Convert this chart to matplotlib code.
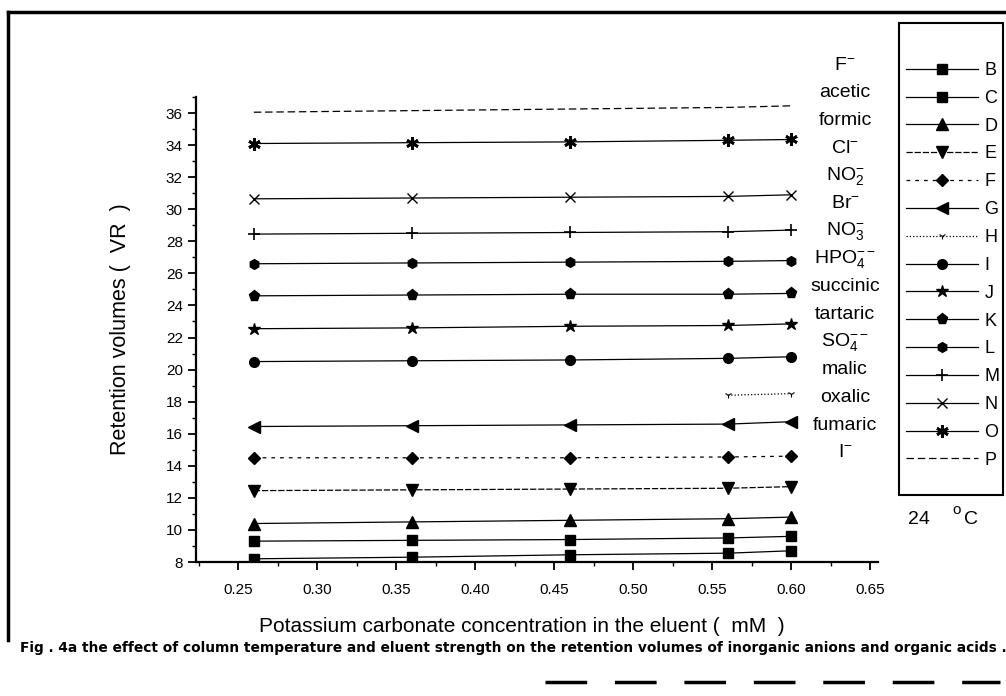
import numpy as np
import matplotlib.pyplot as plt
from matplotlib.lines import Line2D
from matplotlib.patches import Rectangle
from matplotlib.ticker import MultipleLocator, FormatStrFormatter

plt.rcParams['font.family'] = ['Liberation Sans', 'DejaVu Sans']
plt.rcParams['mathtext.fontset'] = 'custom'
plt.rcParams['mathtext.rm'] = 'Liberation Sans'
plt.rcParams['mathtext.it'] = 'Liberation Sans:italic'
plt.rcParams['mathtext.bf'] = 'Liberation Sans:bold'

# eluent concentration (mM)
conc = [0.26, 0.36, 0.46, 0.56, 0.60]

# retention volumes per series
B = [8.2, 8.3, 8.45, 8.55, 8.7]
C = [9.3, 9.35, 9.4, 9.5, 9.6]
D = [10.4, 10.5, 10.6, 10.7, 10.8]
E = [12.45, 12.5, 12.55, 12.6, 12.7]
F = [14.5, 14.5, 14.5, 14.55, 14.6]
G = [16.45, 16.5, 16.55, 16.6, 16.75]
Hs = [np.nan, np.nan, np.nan, 18.4, 18.5]
I = [20.5, 20.55, 20.6, 20.7, 20.8]
J = [22.55, 22.6, 22.7, 22.75, 22.85]
K = [24.6, 24.65, 24.7, 24.7, 24.75]
L = [26.6, 26.65, 26.7, 26.75, 26.8]
M = [28.45, 28.5, 28.55, 28.6, 28.7]
N = [30.65, 30.7, 30.75, 30.8, 30.9]
O = [34.1, 34.15, 34.2, 34.3, 34.35]
P = [36.05, 36.15, 36.25, 36.35, 36.45]

series_names = ['B', 'C', 'D', 'E', 'F', 'G', 'H', 'I', 'J', 'K', 'L', 'M', 'N', 'O', 'P']
series_vals = [B, C, D, E, F, G, Hs, I, J, K, L, M, N, O, P]

# ion / acid names listed beside the curves
ion_labels = [r'F$^{-}$', 'acetic', 'formic', r'Cl$^{-}$', r'NO$_2^{-}$', r'Br$^{-}$',
              r'NO$_3^{-}$', r'HPO$_4^{--}$', 'succinic', 'tartaric', r'SO$_4^{--}$',
              'malic', 'oxalic', 'fumaric', r'I$^{-}$']

xticks = [0.25, 0.30, 0.35, 0.40, 0.45, 0.50, 0.55, 0.60, 0.65]
yticks = list(range(8, 37, 2))

styles = {
    'B': dict(marker='s', ms=7, ls='-'),
    'C': dict(marker='s', ms=7, ls='-'),
    'D': dict(marker='^', ms=8, ls='-'),
    'E': dict(marker='v', ms=8, ls=(0, (5, 1.5))),
    'F': dict(marker='D', ms=6, ls=(0, (3, 4))),
    'G': dict(marker='<', ms=8, ls='-'),
    'H': dict(marker='1', ms=5, ls=':', mew=0.8),
    'I': dict(marker='o', ms=7, ls='-'),
    'J': dict(marker='*', ms=9, ls='-'),
    'K': dict(marker='p', ms=8, ls='-'),
    'L': dict(marker='h', ms=7, ls='-'),
    'M': dict(marker='+', ms=8, ls='-', mew=1.2),
    'N': dict(marker='x', ms=7, ls='-', mew=1.0),
    'O': dict(marker=(6, 2, 0), ms=9, ls='-', mew=2.0),
    'P': dict(marker='None', ls=(0, (6, 3))),
}

W, H = 1006, 696
fig = plt.figure(figsize=(W / 100, H / 100), dpi=100)


def fx(px):
    return px / W


def fy(py):
    return 1 - py / H


ax = fig.add_axes([fx(196), fy(562), (878 - 196) / W, (562 - 97) / H])

handles = []
for name, vals in zip(series_names, series_vals):
    st = dict(styles[name])
    line, = ax.plot(conc, vals, color='black', lw=0.9, mfc='black', mec='black',
                    label=name, **st)
    handles.append(line)

ax.set_xlim(0.2234, 0.655)
ax.set_ylim(8, 37)
ax.set_xticks(xticks)
ax.set_yticks(yticks)
ax.xaxis.set_major_formatter(FormatStrFormatter('%.2f'))
ax.xaxis.set_minor_locator(MultipleLocator(0.025))
ax.yaxis.set_minor_locator(MultipleLocator(1))
ax.tick_params(which='major', direction='out', length=6, width=1.3, labelsize=11)
ax.tick_params(axis='x', which='major', pad=9)
ax.tick_params(which='minor', direction='out', length=3, width=1.0)
for s in ['top', 'right']:
    ax.spines[s].set_visible(False)
for s in ['left', 'bottom']:
    ax.spines[s].set_linewidth(1.6)

ax.set_ylabel('Retention volumes (  VR  )', fontsize=15.5)
ax.yaxis.set_label_coords(-0.095, 0.5)
ax.set_xlabel('Potassium carbonate concentration in the eluent (  mM  )', fontsize=15)
ax.xaxis.set_label_coords(0.478, -0.118)

# names of the eluted species, one per row
for i, lab in enumerate(ion_labels):
    fig.text(fx(845), fy(65 + i * 27.7), lab, ha='center', va='center', fontsize=14)

# legend with its own frame
fig.add_artist(Rectangle((fx(899), fy(495)), (1003 - 899) / W, (495 - 23) / H,
                         transform=fig.transFigure, fill=False, ec='black', lw=1.5))
fig.legend(handles=handles, loc='upper left', bbox_to_anchor=(fx(906), fy(62)),
           frameon=False, fontsize=13, handlelength=4.0, handletextpad=0.35,
           labelspacing=0.6, borderpad=0, borderaxespad=0)

fig.text(fx(908), fy(520), '24', fontsize=14, ha='left', va='center')
fig.text(fx(952), fy(510), 'o', fontsize=11, ha='left', va='center')
fig.text(fx(964), fy(519), 'C', fontsize=14, ha='left', va='center')

fig.text(fx(20), fy(648), 'Fig . 4a the effect of column temperature and eluent strength on the '
         'retention volumes of inorganic anions and organic acids .',
         fontsize=9.9, fontweight='bold', ha='left', va='center', family='DejaVu Sans')

# page border
for xs, ys in [((8, 1006), (12, 12)), ((8, 8), (12, 640))]:
    fig.add_artist(Line2D([fx(v) for v in xs], [fy(v) for v in ys], color='black', lw=2.5))
fig.add_artist(Line2D([fx(545), fx(1000)], [fy(682), fy(682)], color='black', lw=2.5,
                      ls=(0, (12, 8))))

fig.savefig('out.png', dpi=100)
